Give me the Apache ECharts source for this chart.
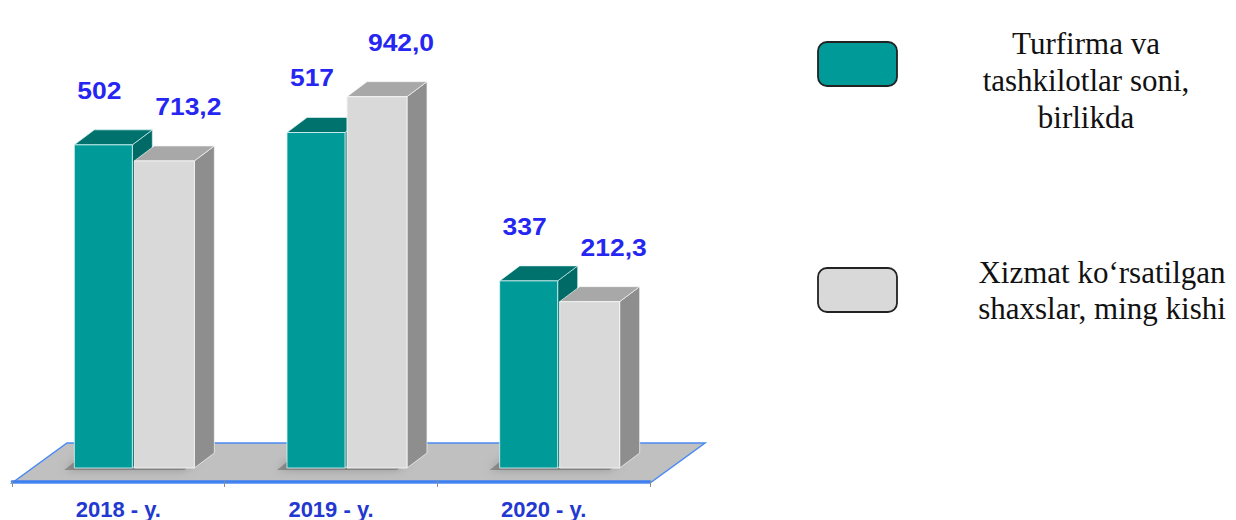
<!DOCTYPE html>
<html>
<head>
<meta charset="utf-8">
<script src="https://cdn.jsdelivr.net/npm/echarts@6/dist/echarts.min.js"></script>
<style>
html,body{margin:0;padding:0;background:#fff;}
#chart{width:1236px;height:520px;}
</style>
</head>
<body>
<div id="chart"></div>
<script>
// ---- data ----
const categories = ['2018 - y.', '2019 - y.', '2020 - y.'];
const firmsCount = [502, 517, 337];          // Turfirma va tashkilotlar soni, birlikda
const firmsLabels = ['502', '517', '337'];
const servedPeople = [713.2, 942.0, 212.3];  // Xizmat ko'rsatilgan shaxslar, ming kishi
const servedLabels = ['713,2', '942,0', '212,3'];
const legendNames = ['Turfirma va\ntashkilotlar soni,\nbirlikda', 'Xizmat koʻrsatilgan\nshaxslar, ming kishi'];

// ---- layout / style ----
const G = {left: 12, right: 586, top: 40, bottom: 37};
const W = 1236, H = 520;
const DX = 20, DY = -15, LIFT = 13;
const FLOOR_DX = 55, FLOOR_DY = -40;

const chart = echarts.init(document.getElementById('chart'), null, {renderer: 'svg'});

function makeBar(color, offsets, labels, labelShift, withShadow) {
  return function (params, api) {
    const i = api.value(0);
    const v = api.value(1);
    const pt = api.coord([i, v]);
    const cs = params.coordSys;
    const cx = pt[0];
    const yT = pt[1] - LIFT;
    const yB = cs.y + cs.height - LIFT;
    const x0 = cx + offsets[0], x1 = cx + offsets[1];
    const children = [];
    if (withShadow) {
      children.push({type: 'polygon', shape: {points: [[x0 - 10, yB + 2], [x0 + 110, yB + 2], [x0 + 125, yB - 10], [x0 + 5, yB - 10]]},
        style: {fill: 'rgba(50,50,50,0.35)', shadowBlur: 10, shadowColor: 'rgba(0,0,0,0.6)'}});
    }
    children.push(
      {type: 'polygon', shape: {points: [[x1, yT], [x1 + DX, yT + DY], [x1 + DX, yB + DY], [x1, yB]]},
        style: {fill: color.side, stroke: color.edge, lineWidth: 0.8}},
      {type: 'polygon', shape: {points: [[x0, yT], [x1, yT], [x1 + DX, yT + DY], [x0 + DX, yT + DY]]},
        style: {fill: color.top, stroke: color.edge, lineWidth: 0.8}},
      {type: 'rect', shape: {x: x0, y: yT, width: x1 - x0, height: yB - yT},
        style: {fill: color.front, stroke: color.edge, lineWidth: 1}},
      {type: 'text', x: (x0 + x1) / 2 + labelShift, y: yT - 54, scaleX: 1.15,
        style: {text: labels[params.dataIndex], textAlign: 'center', textVerticalAlign: 'middle',
          fill: '#2626F2', font: 'bold 23px "Liberation Sans", Arial, sans-serif'}}
    );
    return {type: 'group', children: children};
  };
}

const teal = {front: '#009B98', top: '#00726E', side: '#006A66', edge: 'rgba(220,245,245,0.8)'};
const gray = {front: '#D9D9D9', top: '#A8A8A8', side: '#8E8E8E', edge: 'rgba(245,245,245,0.9)'};

const bl = [G.left, H - G.bottom];
const br = [W - G.right, H - G.bottom];
const legendFont = '31px "Liberation Serif", "Times New Roman", serif';

chart.setOption({
  animation: false,
  grid: {left: G.left, right: G.right, top: G.top, bottom: G.bottom, containLabel: false},
  xAxis: {
    type: 'category', data: categories, boundaryGap: true,
    axisLine: {show: true, onZero: false, lineStyle: {color: '#3D7FF0', width: 2.5}},
    axisTick: {show: true, length: 6, lineStyle: {color: '#8a8a8a', width: 1}},
    axisLabel: {margin: 17, color: '#2338D0', fontWeight: 'bold', fontSize: 22, fontFamily: '"Liberation Sans", Arial, sans-serif'},
    z: 1
  },
  yAxis: [
    {type: 'value', min: 110, max: 645, show: false},
    {type: 'value', min: -380, max: 1190, show: false}
  ],
  graphic: [
    {type: 'polygon', z: 0, silent: true,
      shape: {points: [bl, br, [br[0] + FLOOR_DX, br[1] + FLOOR_DY], [bl[0] + FLOOR_DX, bl[1] + FLOOR_DY]]},
      style: {fill: '#C0C0C0', stroke: '#4A8BF2', lineWidth: 1.5}},
    {type: 'rect', shape: {x: 818, y: 42, width: 79, height: 44, r: 9},
      style: {fill: '#009B98', stroke: '#222', lineWidth: 1.8}},
    {type: 'text', x: 1086, y: 80,
      style: {text: legendNames[0], textAlign: 'center', textVerticalAlign: 'middle', fill: '#111', lineHeight: 37, font: legendFont}},
    {type: 'rect', shape: {x: 818, y: 268, width: 79, height: 44, r: 9},
      style: {fill: '#D9D9D9', stroke: '#222', lineWidth: 1.8}},
    {type: 'text', x: 1102, y: 290,
      style: {text: legendNames[1], textAlign: 'center', textVerticalAlign: 'middle', fill: '#111', lineHeight: 36, font: legendFont}}
  ],
  series: [
    {type: 'custom', name: 'Turfirma va tashkilotlar soni, birlikda', yAxisIndex: 0, z: 3,
      data: categories.map((c, i) => [i, firmsCount[i]]),
      encode: {x: 0, y: 1},
      renderItem: makeBar(teal, [-44, 14], firmsLabels, -4, true)},
    {type: 'custom', name: 'Xizmat koʻrsatilgan shaxslar, ming kishi', yAxisIndex: 1, z: 4,
      data: categories.map((c, i) => [i, servedPeople[i]]),
      encode: {x: 0, y: 1},
      renderItem: makeBar(gray, [16, 76], servedLabels, 24, false)}
  ]
});
</script>
</body>
</html>
